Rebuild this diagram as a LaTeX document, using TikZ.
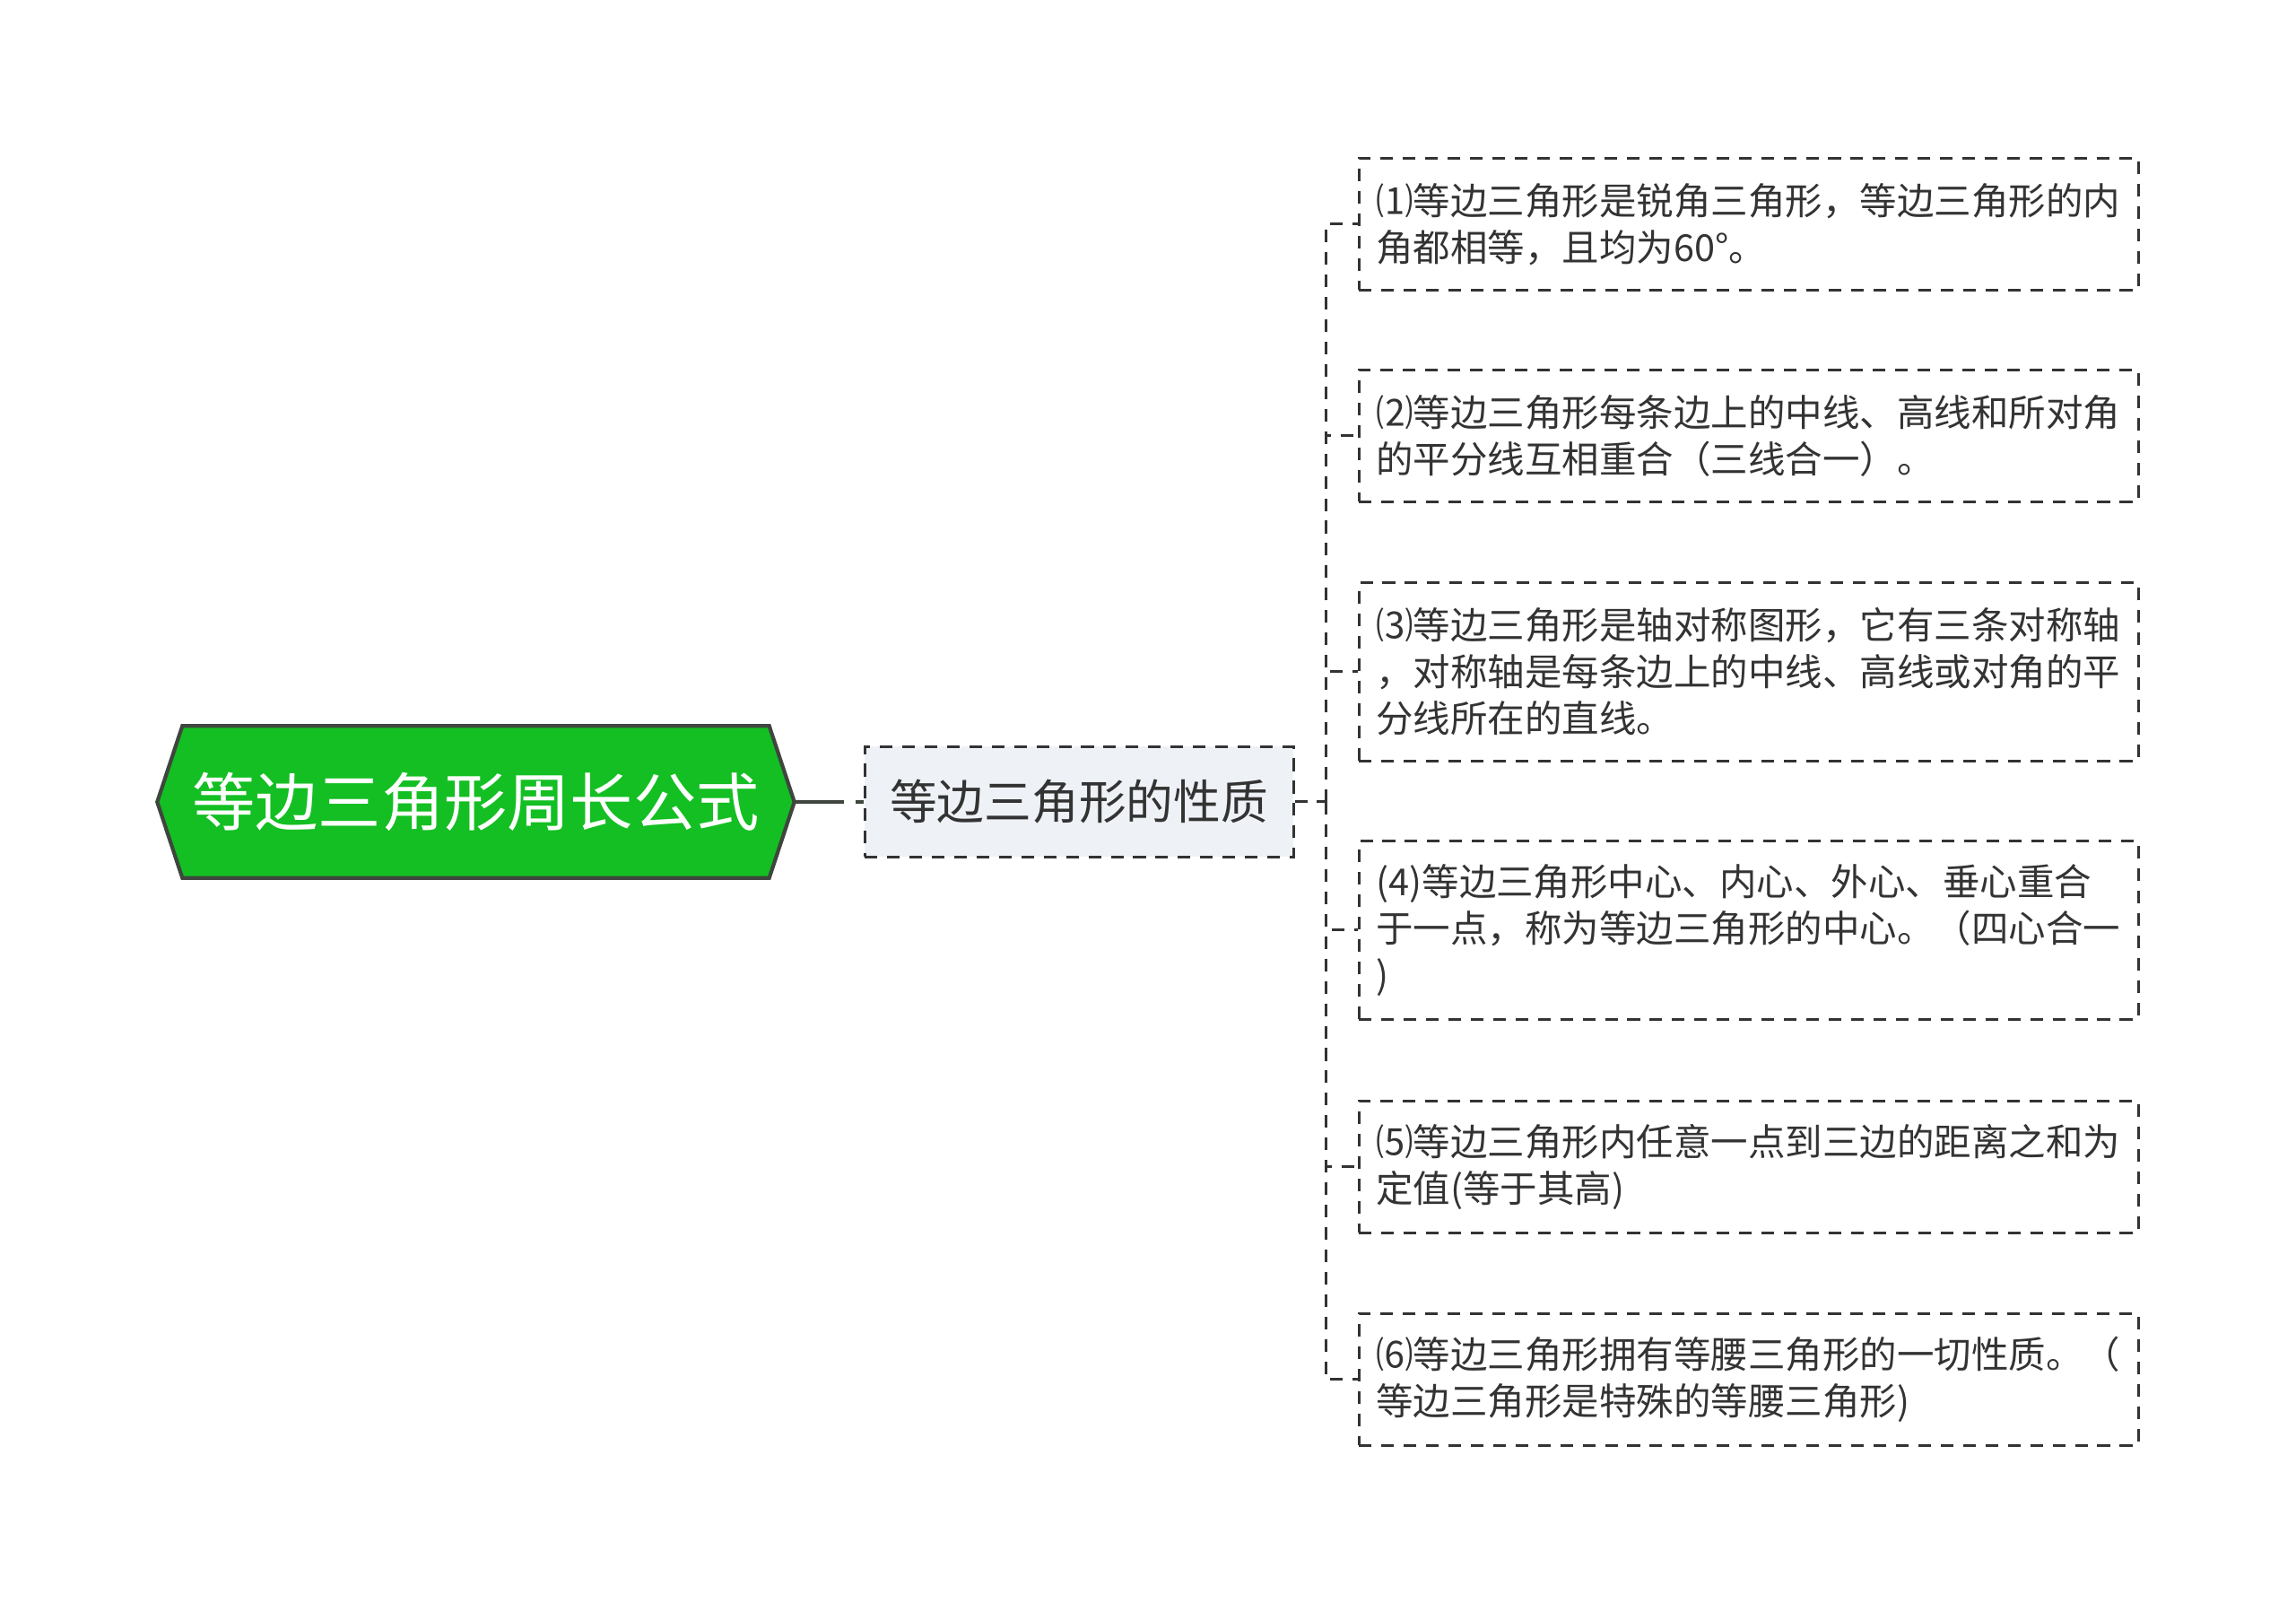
\documentclass[tikz,border=0pt]{standalone}
\usepackage{fontspec}
\setmainfont{Noto Sans CJK SC}
\usetikzlibrary{backgrounds}
\definecolor{rootgreen}{HTML}{13BF22}
\definecolor{rootedge}{HTML}{3E463E}
\definecolor{propfill}{HTML}{EEF1F5}
\definecolor{linegray}{HTML}{333333}
\begin{document}
\begin{tikzpicture}[
  rootbox/.style={minimum width=6.53cm, minimum height=1.68cm, inner sep=0pt,
    text=white, font=\fontsize{20pt}{24pt}\selectfont},
  rootshape/.style={fill=rootgreen, draw=rootedge, line width=1.2pt, line join=miter},
  propbox/.style={draw=linegray, fill=propfill, line width=0.85pt,
    dash pattern=on 4pt off 3.1pt, minimum width=4.78cm, minimum height=1.23cm,
    inner sep=0pt, text=linegray, font=\fontsize{15pt}{18pt}\selectfont},
  itembox/.style={draw=linegray, line width=0.85pt, dash pattern=on 4pt off 3.1pt,
    text width=8.3cm, inner xsep=1.95mm, inner ysep=0pt, align=left,
    text=linegray, font=\fontsize{11.8pt}{14.8pt}\selectfont},
  link/.style={draw=linegray, line width=0.85pt, dash pattern=on 4pt off 3.1pt},
  rootlink/.style={draw=rootedge, line width=1.2pt, dash pattern=on 5.5mm off 1.3mm on 0.9mm off 2mm}
]
\useasboundingbox (0,0) rectangle (25.6,17.87);

\node[rootbox] (formula) at (5.305,8.93) {等边三角形周长公式};
\coordinate (tip) at ([xshift=2.8mm]formula.east);
\begin{pgfonlayer}{background}
\filldraw[rootshape] (formula.north west) -- (formula.north east) -- (tip)
  -- (formula.south east) -- (formula.south west) -- ([xshift=-2.8mm]formula.west) -- cycle;
\end{pgfonlayer}

\node[propbox] (prop) at (12.03,8.93) {等边三角形的性质};

\node[itembox, minimum height=1.47cm] (p1) at (19.495,15.37) {⑴等边三角形是锐角三角形，等边三角形的内\\角都相等，且均为60°。};
\node[itembox, minimum height=1.47cm] (p2) at (19.495,13.01) {⑵等边三角形每条边上的中线、高线和所对角\\的平分线互相重合（三线合一）。};
\node[itembox, minimum height=1.99cm] (p3) at (19.495,10.38) {⑶等边三角形是轴对称图形，它有三条对称轴\\，对称轴是每条边上的中线、高线或对角的平\\分线所在的直线。};
\node[itembox, minimum height=1.99cm] (p4) at (19.495,7.50) {(4)等边三角形中心、内心、外心、垂心重合\\于一点，称为等边三角形的中心。（四心合一\\)};
\node[itembox, minimum height=1.47cm] (p5) at (19.495,4.86) {⑸等边三角形内任意一点到三边的距离之和为\\定值(等于其高)};
\node[itembox, minimum height=1.47cm] (p6) at (19.495,2.49) {⑹等边三角形拥有等腰三角形的一切性质。（\\等边三角形是特殊的等腰三角形)};

\draw[rootlink] (tip) -- (prop.west);

\coordinate (fork) at ([xshift=3.5mm]prop.east);
\draw[link] (prop.east) -- (fork);
\draw[link] (fork) |- (p1.west);
\draw[link] (fork) |- (p2.west);
\draw[link] (fork) |- (p3.west);
\draw[link] (fork) |- (p4.west);
\draw[link] (fork) |- (p5.west);
\draw[link] (fork) |- (p6.west);
\end{tikzpicture}
\end{document}
